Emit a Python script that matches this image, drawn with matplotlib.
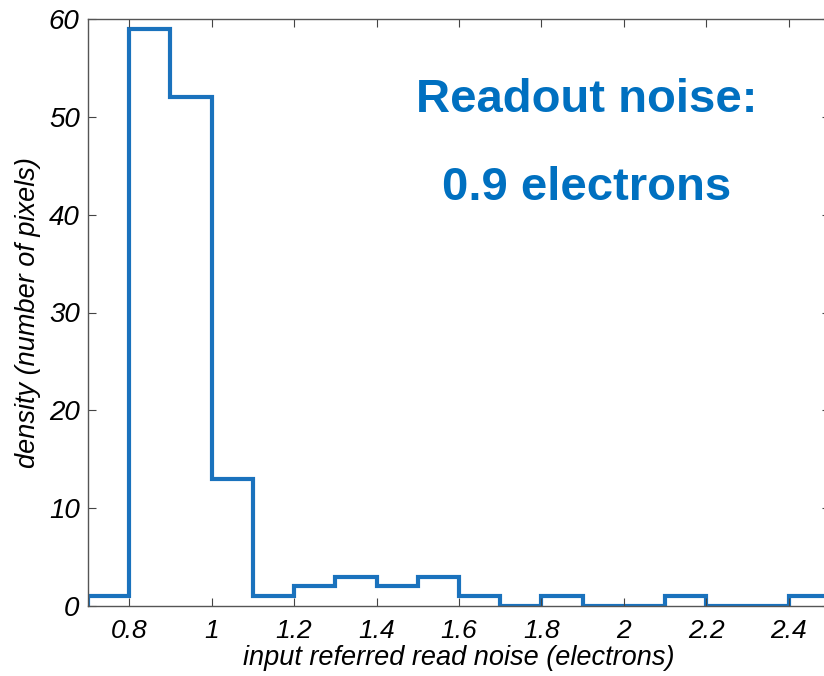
import numpy as np
import matplotlib
matplotlib.use('Agg')
import matplotlib.pyplot as plt

# histogram bins (0.1 electron wide) and counts
bin_edges = [0.7, 0.8, 0.9, 1.0, 1.1, 1.2, 1.3, 1.4, 1.5, 1.6, 1.7,
             1.8, 1.9, 2.0, 2.1, 2.2, 2.3, 2.4, 2.5]
counts = [1, 59, 52, 13, 1, 2, 3, 2, 3, 1, 0, 1, 0, 0, 1, 0, 0, 1]

xticks = [0.8, 1.0, 1.2, 1.4, 1.6, 1.8, 2.0, 2.2, 2.4]
xticklabels = ['0.8', '1', '1.2', '1.4', '1.6', '1.8', '2', '2.2', '2.4']
yticks = [0, 10, 20, 30, 40, 50, 60]

line_color = '#1a72bd'
text_color = '#0070c0'

plt.rcParams['font.family'] = ['Liberation Sans', 'DejaVu Sans']

fig = plt.figure(figsize=(8.24, 6.76), dpi=100)
W, H = 824., 676.
left, right, top, bottom = 88., 830., 19., 606.
ax = fig.add_axes([left / W, 1 - bottom / H, (right - left) / W, (bottom - top) / H])

ax.stairs(counts, bin_edges, color=line_color, linewidth=3.0)

ax.set_xlim(0.7, 2.5)
ax.set_ylim(0, 60)
ax.set_xticks(xticks)
ax.set_xticklabels(xticklabels, fontsize=19, style='italic')
ax.set_yticks(yticks)
ax.set_yticklabels([str(v) for v in yticks], fontsize=20, style='italic')
ax.tick_params(direction='in', length=6, width=0.8, color='#444444',
               top=True, right=True, pad=6)
ax.tick_params(axis='x', pad=9)
for s in ax.spines.values():
    s.set_color('#555555')
    s.set_linewidth(1.0)

ax.set_xlabel('input referred read noise (electrons)', fontsize=19.5,
              style='italic', labelpad=2)
ax.set_ylabel('density (number of pixels)', fontsize=19.5, style='italic',
              labelpad=6)

fig.text(587 / W, 1 - 100 / H, 'Readout noise:', color=text_color,
         fontsize=34, fontweight='bold', ha='center', va='center')
fig.text(587 / W, 1 - 188 / H, '0.9 electrons', color=text_color,
         fontsize=34, fontweight='bold', ha='center', va='center')

fig.savefig('out.png', dpi=100)
